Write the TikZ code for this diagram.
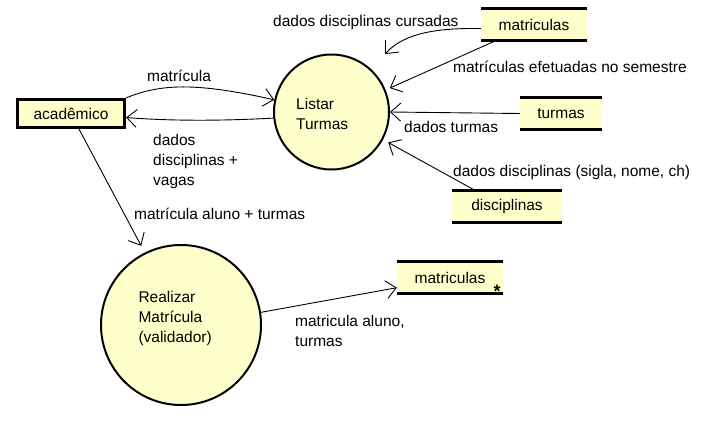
\documentclass[tikz,border=0pt]{standalone}
\usepackage{fontspec}
\setmainfont{Liberation Sans}
\usetikzlibrary{arrows.meta,calc}
\definecolor{dfdfill}{RGB}{255,255,204}
\begin{document}
\begin{tikzpicture}[x=1pt,y=-1pt,
  font=\fontsize{15.5}{20}\selectfont,
  flow/.style={line width=0.9pt,-{Straight Barb[length=10pt,width=18pt,line width=0.9pt]}},
  proc/.style={circle,draw,fill=dfdfill,line width=2pt,inner sep=0pt},
  extent/.style={rectangle,draw,fill=dfdfill,line width=3.2pt,inner sep=0pt,minimum width=107pt,minimum height=28pt},
  store/.style={rectangle,fill=dfdfill,inner sep=0pt,minimum height=31pt},
  storeline/.style={line width=3pt},
  lbl/.style={anchor=base west,inner sep=0pt,align=left}]
\useasboundingbox (0,0) rectangle (712,426);

% entities / processes / stores
\node[extent] (acad) at (71,113.5) {acad\^emico};
\node[proc,minimum size=115pt] (lt) at (331.5,112) {};
\node[lbl] (ltt) at (296,129.3) {Listar\\Turmas};
\node[proc,minimum size=160pt] (rm) at (181,325) {};
\node[lbl] (rmt) at (138.3,342.3) {Realizar\\Matr\'icula\\(validador)};

\node[store,minimum width=106pt] (m1) at (534,24.5) {matriculas};
\node[store,minimum width=82pt] (tu) at (561,113.5) {turmas};
\node[store,minimum width=110pt] (di) at (507,206.5) {disciplinas};
\node[store,minimum width=106pt] (m2) at (450,277.5) {matriculas};
\node[inner sep=0pt,font=\fontsize{18}{20}\selectfont\bfseries] (ast) at (497,291) {*};
\foreach \s in {m1,tu,di,m2}
  \draw[storeline] (\s.north west) -- (\s.north east) (\s.south west) -- (\s.south east);

% connectors
\draw[flow] (acad.north east) .. controls (160,84) and (195,82) .. (lt.168);
\node[lbl] (l1) at (147,81) {matr\'icula};

\draw[flow] (lt.186) .. controls (220,121) and (170,121) .. ($(acad.east)+(0,4)$);
\node[lbl] (l2) at (153,185) {dados\\disciplinas +\\vagas};

\draw[flow] ($(acad.south)+(8,0)$) -- ($(rm.117)+(-3,-7)$);
\node[lbl] (l3) at (134,219) {matr\'icula aluno + turmas};

\coordinate (t4) at (385,54);
\draw[flow] ($(m1.west)+(0,4)$) .. controls (440,28) and (405,32) .. (t4);
\node[lbl] (l4) at (273,26.7) {dados disciplinas cursadas};

\draw[flow] ($(m1.south west)+(16,0)$) -- ($(lt.22)+(4,-2)$);
\node[lbl] (l5) at (453,72.7) {matr\'iculas efetuadas no semestre};

\draw[flow] (tu.west) -- (lt.east);
\node[lbl] (l6) at (404,132.7) {dados turmas};

\draw[flow] ($(di.north west)+(24,0)$) -- ($(lt.-28)+(5,3)$);
\node[lbl] (l7) at (453,176.7) {dados disciplinas (sigla, nome, ch)};

\draw[flow] (rm.9) -- ($(m2.south west)+(0,-5.5)$);
\node[lbl] (l8) at (295,346.7) {matricula aluno,\\turmas};
\end{tikzpicture}
\end{document}
